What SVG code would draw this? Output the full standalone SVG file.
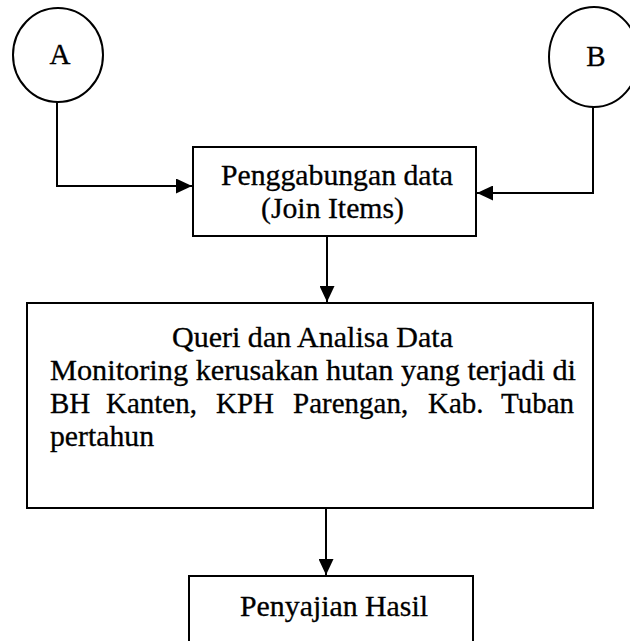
<svg xmlns="http://www.w3.org/2000/svg" width="630" height="641" viewBox="0 0 630 641">
  <style>
    .shape { fill: #ffffff; stroke: #000000; stroke-width: 2; }
    .link { fill: none; stroke: #000000; stroke-width: 2; }
    .label { font-family: "Liberation Serif", "Times New Roman", serif; font-size: 29px; fill: #000000; stroke: #000000; stroke-width: 0.3; }
    .mid { text-anchor: middle; }
  </style>
  <defs>
    <marker id="arrow" markerUnits="userSpaceOnUse" markerWidth="16" markerHeight="15" refX="16" refY="7.5" orient="auto">
      <path d="M0,0 L16,7.5 L0,15 Z" fill="#000000"/>
    </marker>
  </defs>

  <rect x="0" y="0" width="630" height="641" fill="#ffffff"/>

  <!-- Connectors -->
  <g id="connectors">
    <path class="link" d="M57,101 V186 H192" marker-end="url(#arrow)"/>
    <path class="link" d="M593,107 V193 H477" marker-end="url(#arrow)"/>
    <path class="link" d="M327,236 V302" marker-end="url(#arrow)"/>
    <path class="link" d="M326,508 V575" marker-end="url(#arrow)"/>
  </g>

  <!-- Connector A -->
  <g id="node-a">
    <ellipse class="shape" cx="58" cy="55" rx="45" ry="47"/>
    <text class="label mid" x="60" y="64">A</text>
  </g>

  <!-- Connector B (runs off the right edge) -->
  <g id="node-b">
    <ellipse class="shape" cx="594" cy="57" rx="45" ry="50"/>
    <text class="label mid" x="596" y="66">B</text>
  </g>

  <!-- Join step -->
  <g id="node-join">
    <rect class="shape" x="193" y="147" width="283" height="89"/>
    <text class="label" x="221" y="185" textLength="232" lengthAdjust="spacingAndGlyphs">Penggabungan data</text>
    <text class="label" x="261" y="218" textLength="143" lengthAdjust="spacingAndGlyphs">(Join Items)</text>
  </g>

  <!-- Query and analysis step -->
  <g id="node-query">
    <rect class="shape" x="27" y="303" width="566" height="205"/>
    <text class="label" x="172" y="347" textLength="281" lengthAdjust="spacingAndGlyphs">Queri dan Analisa Data</text>
    <text class="label" x="50" y="380" textLength="526" lengthAdjust="spacingAndGlyphs">Monitoring kerusakan hutan yang terjadi di</text>
    <text class="label" y="413">
      <tspan x="50">BH</tspan>
      <tspan x="106">Kanten,</tspan>
      <tspan x="216">KPH</tspan>
      <tspan x="293">Parengan,</tspan>
      <tspan x="428">Kab.</tspan>
      <tspan x="501">Tuban</tspan>
    </text>
    <text class="label" x="50" y="446" textLength="104" lengthAdjust="spacingAndGlyphs">pertahun</text>
  </g>

  <!-- Result presentation step (continues below the page) -->
  <g id="node-result">
    <rect class="shape" x="189" y="576" width="284" height="90"/>
    <text class="label" x="240" y="616" textLength="188" lengthAdjust="spacingAndGlyphs">Penyajian Hasil</text>
  </g>
</svg>
